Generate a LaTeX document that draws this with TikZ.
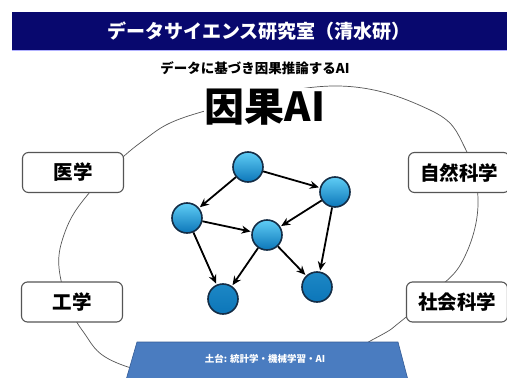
\documentclass[tikz,border=0pt]{standalone}
\usepackage{fontspec}
\newfontfamily\jp{Noto Sans CJK JP}
\usetikzlibrary{arrows.meta,shapes.geometric}
\definecolor{navy}{RGB}{8,8,110}
\definecolor{basefill}{RGB}{74,124,192}
\definecolor{baseline}{RGB}{52,92,150}
\definecolor{balltop}{RGB}{95,205,245}
\definecolor{ballbot}{RGB}{12,118,185}
\definecolor{ballline}{RGB}{20,45,70}
\definecolor{ringc}{RGB}{85,85,85}
\tikzset{
  field/.style={draw=ringc,line width=1.1pt,fill=white,rounded corners=6pt,
    minimum width=101pt,minimum height=40pt,font=\jp\bfseries\fontsize{19.5}{20}\selectfont},
  dagnode/.style={circle,minimum size=30pt,inner sep=0pt,draw=ballline,line width=1.6pt,
    top color=balltop,bottom color=ballbot},
  dagedge/.style={line width=1.8pt,-{Stealth[length=9pt,width=8pt]},shorten >=1pt}
}
\begin{document}
\begin{tikzpicture}[x=1pt,y=-1pt]
\useasboundingbox (0,0) rectangle (507,378);
\fill[white] (0,0) rectangle (507,378);
% header
\fill[navy] (12,12) rectangle (507,50);
\draw[blue!30,line width=0.8pt] (12,50.5) -- (507,50.5);
\node[text=white,font=\jp\bfseries\fontsize{19}{19}\selectfont] (title) at (259,31) {データサイエンス研究室（清水研）};
\node[font=\jp\bfseries\fontsize{13.5}{14}\selectfont] (sub) at (255,68) {データに基づき因果推論するAI};
% ring
\draw[ringc,line width=0.7pt] plot[smooth cycle,tension=0.65] coordinates {
 (198,113) (333,86) (430,110) (465,148) (478,205) (462,262) (430,295) (400,322) (372,340)
 (268,392) (128,367) (82,330) (60,275) (65,232) (90,192) (140,143)};
\node[fill=white,inner sep=1pt,font=\jp\bfseries\fontsize{40}{40}\selectfont] (ai) at (265,107) {因果AI};
% fields
\node[field] (med) at (73,172.5) {医学};
\node[field] (eng) at (72,302) {工学};
\node[field] (nat) at (459,172.5) {自然科学};
\node[field] (soc) at (457,302) {社会科学};
% base
\path[fill=basefill,draw=baseline,line width=0.6pt] (137,342) -- (398,342) -- (408,380) -- (126,380) -- cycle;
\node[text=white,font=\jp\bfseries\fontsize{9.5}{9.5}\selectfont] (base) at (265,359) {土台: 統計学・機械学習・AI};
% DAG
\node[dagnode] (A) at (248,167) {};
\node[dagnode] (B) at (335,192) {};
\node[dagnode] (C) at (187,218) {};
\node[dagnode] (D) at (267,235) {};
\node[dagnode,top color=ballbot!80!balltop,bottom color=ballbot] (E) at (223,299) {};
\node[dagnode,top color=ballbot!80!balltop,bottom color=ballbot] (F) at (317,287) {};
\draw[dagedge] (A) -- (B);
\draw[dagedge] (A) -- (C);
\draw[dagedge] (C) -- (D);
\draw[dagedge] (B) -- (D);
\draw[dagedge] (C) -- (E);
\draw[dagedge] (D) -- (E);
\draw[dagedge] (D) -- (F);
\draw[dagedge] (B) -- (F);
\end{tikzpicture}
\end{document}
